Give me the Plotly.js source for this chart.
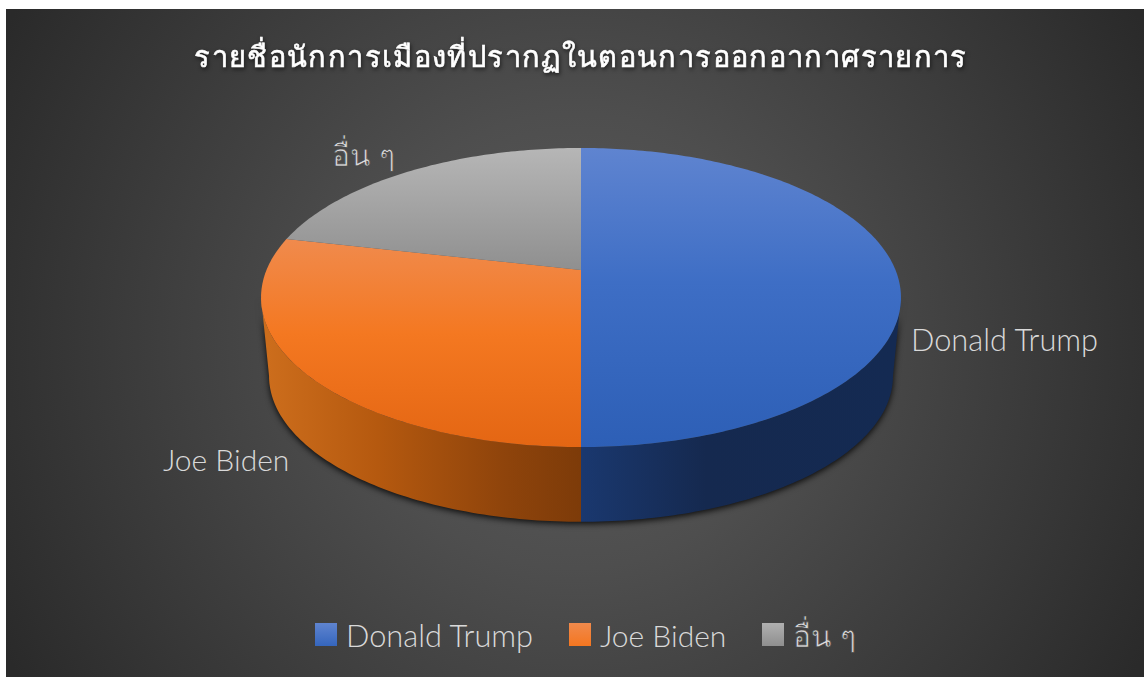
<!DOCTYPE html>
<html><head><meta charset="utf-8">
<script src="https://cdn.plot.ly/plotly-3.0.1.min.js"></script>
<style>
html,body{margin:0;padding:0;background:#fff;overflow:hidden}
#bg{position:absolute;left:6px;top:9px;width:1138px;height:668px;
background:radial-gradient(circle 650px at 569px 332px,#5c5c5c 0%,#4e4e4e 35%,#2a2a2a 100%)}
#gd{position:absolute;left:0;top:0;width:1144px;height:677px}
</style></head><body>
<div id="bg"></div><div id="gd"></div>
<script>
const chartTitle='รายชื่อนักการเมืองที่ปรากฏในตอนการออกอากาศรายการ';
const categories=['Donald Trump','Joe Biden','อื่น ๆ'];
const values=[7,4,3];
const baseColors=['#3f6fc6','#f47b28','#a5a5a5'];
const FONT='Lato,"Noto Sans",sans-serif';
const gd=document.getElementById('gd');
const labelPos=[[1004,349],[226,472],[363,158]];
const labelSizes=[30.8,30,30];
const labelWeights=[300,300,400];
const annotations=categories.map((c,i)=>({text:c,xref:'paper',yref:'paper',x:labelPos[i][0]/1144,y:1-labelPos[i][1]/677,
  showarrow:false,xanchor:'center',yanchor:'middle',font:{family:FONT,size:labelSizes[i],color:'#d9d9d9',weight:labelWeights[i]}}));
Plotly.newPlot(gd,[{type:'pie',labels:categories,values:values,sort:false,direction:'clockwise',rotation:0,
  marker:{colors:baseColors,line:{width:0}},textinfo:'none',hoverinfo:'label+percent',domain:{x:[.25,.75],y:[.2,.8]}}],
 {width:1144,height:677,margin:{l:0,r:0,t:0,b:0},paper_bgcolor:'rgba(0,0,0,0)',plot_bgcolor:'rgba(0,0,0,0)',
  title:{text:chartTitle,x:581/1144,xanchor:'center',xref:'paper',y:1-58/677,yanchor:'middle',yref:'paper',
    font:{family:FONT,size:29,color:'#ffffff',weight:400}},
  showlegend:true,legend:{orientation:'h',x:.5,y:.05,font:{family:FONT,size:30,color:'#d9d9d9',weight:300}},
  annotations:annotations},{displayModeBar:false}).then(warp);

function warp(){
  const NS='http://www.w3.org/2000/svg';
  const svg=gd.querySelector('.main-svg');
  const defs=document.createElementNS(NS,'defs');svg.insertBefore(defs,svg.firstChild);
  function grad(id,x1,y1,x2,y2,stops){
    const g=document.createElementNS(NS,'linearGradient');g.id=id;
    g.setAttribute('gradientUnits','userSpaceOnUse');
    [['x1',x1],['y1',y1],['x2',x2],['y2',y2]].forEach(a=>g.setAttribute(a[0],a[1]));
    stops.forEach(s=>{const t=document.createElementNS(NS,'stop');t.setAttribute('offset',s[0]);t.setAttribute('stop-color',s[1]);g.appendChild(t);});
    defs.appendChild(g);
  }
  const topStops=[
    [[0,'#5f84d0'],[.45,'#3e6ec5'],[1,'#2d5fb6']],
    [[0,'#f4a272'],[.31,'#f08a4c'],[.62,'#f47821'],[1,'#e46613']],
    [[0,'#b6b6b6'],[.41,'#8f8f8f'],[1,'#808080']]];
  topStops.forEach((s,i)=>grad('top'+i,0,148,0,447,s));
  grad('wall0',581,0,893,0,[[0,'#1a386f'],[.4,'#15294f'],[1,'#142a52']]);
  grad('wall1',268,0,581,0,[[0,'#cc6d1c'],[.35,'#b5590f'],[.75,'#8f440b'],[1,'#7d3b09']]);
  // Perspective projection of the unit disc onto the tilted plane
  const k=-0.184,cx=581,ay=94.8,y0=270,ax=314.5;
  const proj=a=>{const u=Math.sin(a),v=-Math.cos(a),w=1+k*v;return [cx+ax*u/w,(y0+ay*v)/w];};
  const lower=p=>[cx+(p[0]-cx)*.975,376+(p[1]-297.5)*.975];
  const arc=(a0,a1)=>{const n=Math.max(2,Math.ceil(Math.abs(a1-a0)*60)),r=[];
    for(let i=0;i<=n;i++)r.push(proj(a0+(a1-a0)*i/n));return r;};
  const dOf=pts=>'M'+pts.map(p=>p[0].toFixed(2)+','+p[1].toFixed(2)).join('L')+'Z';
  const layer=gd.querySelector('.pielayer');
  const wallG=document.createElementNS(NS,'g');
  wallG.style.filter='drop-shadow(0px 2px 3px rgba(0,0,0,.85))';
  layer.insertBefore(wallG,layer.firstChild);
  const vis0=Math.acos(k), vis1=2*Math.PI-vis0;
  gd.querySelectorAll('.pielayer g.slice').forEach((s,i)=>{
    const path=s.querySelector('path.surface');
    const d=path.__data__||s.__data__;
    const a0=d.startangle,a1=d.stopangle;
    path.setAttribute('d',dOf([[cx,y0]].concat(arc(a0,a1))));
    path.removeAttribute('transform');
    path.style.fill='url(#top'+i+')';
    const b0=Math.max(a0,vis0),b1=Math.min(a1,vis1);
    if(b1>b0){
      const up=arc(b0,b1),lo=up.map(lower).reverse();
      const w=document.createElementNS(NS,'path');
      w.setAttribute('d',dOf(up.concat(lo)));
      w.style.fill='url(#wall'+i+')';
      wallG.appendChild(w);
    }
  });
  // Legend layout
  const leg=gd.querySelector('.legend');
  leg.setAttribute('transform','translate(0,0)');
  const bg=leg.querySelector('.bg');if(bg)bg.style.display='none';
  const sb=leg.querySelector('.scrollbox');sb.removeAttribute('transform');sb.removeAttribute('clip-path');sb.style.clipPath='none';
  leg.removeAttribute('clip-path');
  const swatchX=[326,580,773],textX=[346,600,793];
  const legStops=[['#5f84d0','#3566bd'],['#f08a4c','#f47620'],['#b0b0b0','#8f8f8f']];
  legStops.forEach((s,i)=>grad('leg'+i,0,-11.5,0,11.5,[[0,s[0]],[1,s[1]]]));
  const thin=el=>{el.style.stroke='#474747';el.style.strokeWidth='0.7px';};
  leg.querySelectorAll('g.traces').forEach((t,i)=>{
    t.setAttribute('transform','translate(0,0)');
    const lp=t.querySelector('g.legendpoints');if(lp)lp.setAttribute('transform','translate('+swatchX[i]+',634.5)');
    const p=t.querySelector('path.legendpie');
    if(p){p.removeAttribute('transform');p.setAttribute('d','M11,11.5H-11V-11.5H11Z');p.style.fill='url(#leg'+i+')';p.style.strokeWidth='0';}
    const tx=t.querySelector('text.legendtext');tx.setAttribute('x',textX[i]);tx.setAttribute('y',647);
    tx.setAttribute('text-anchor','start');
    tx.style.fontSize=labelSizes[i]+'px';tx.style.fontWeight=labelWeights[i];
    if(labelWeights[i]===400)thin(tx);
  });
  // The Thai fallback font has no light weight: thin its glyphs with a background-coloured stroke
  const ann=gd.querySelectorAll('.annotation-text');
  if(ann[2])thin(ann[2]);
  const title=gd.querySelector('.gtitle');
  if(title){title.style.letterSpacing='1.37px';title.style.stroke='#ffffff';title.style.strokeWidth='0.6px';
    title.style.filter='drop-shadow(1px 2px 2px rgba(0,0,0,.6))';}
}
</script></body></html>
